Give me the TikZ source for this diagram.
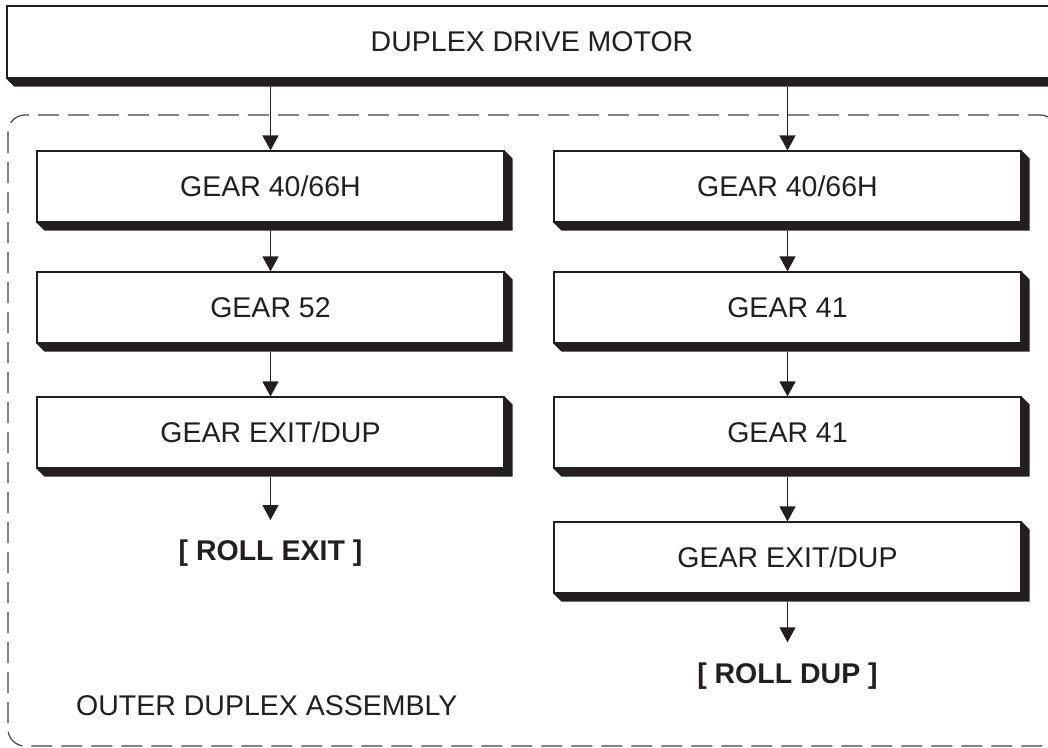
\documentclass[tikz,border=0pt]{standalone}
\usepackage{fontspec}
\setmainfont{Liberation Sans}
\usetikzlibrary{arrows.meta}
\definecolor{ink}{HTML}{231F20}
\begin{document}
\begin{tikzpicture}[x=1pt,y=-1pt,
  gearbox/.style={draw=ink, line width=1.2pt, fill=white, minimum width=467pt,
    minimum height=71pt, inner sep=0pt, font=\fontsize{28.5}{34}\selectfont, text=ink},
  motorbox/.style={gearbox, minimum width=1050pt, minimum height=72pt, line width=1.4pt},
  flow/.style={draw=ink, line width=1.3pt, -{Triangle[length=15pt,width=16pt]}},
  rolltext/.style={inner sep=0pt, text height=20.5pt, text depth=0pt, anchor=base,
    font=\fontsize{28.5}{34}\selectfont\bfseries, text=ink},
  labeltext/.style={inner sep=0pt, anchor=base west, font=\fontsize{28.5}{34}\selectfont, text=ink},
  assembly/.style={draw=ink!85, line width=1.2pt, dash pattern=on 21pt off 9pt, rounded corners=17pt}
]
\useasboundingbox (0,0) rectangle (1048,747);
\clip (0,0) rectangle (1048,747);

% outer dashed assembly outline
\draw[assembly] (8,115) rectangle (1057,746);

% motor
\node[motorbox] (motor) at (532,42) {DUPLEX DRIVE MOTOR};

% left column
\node[gearbox] (l1) at (270.5,186.5) {GEAR 40/66H};
\node[gearbox] (l2) at (270.5,307.5) {GEAR 52};
\node[gearbox] (l3) at (270.5,432.5) {GEAR EXIT/DUP};
\node[rolltext] (rexit) at (270.5,560.7) {[ ROLL EXIT ]};

% right column
\node[gearbox] (r1) at (787.5,186.5) {GEAR 40/66H};
\node[gearbox] (r2) at (787.5,307.5) {GEAR 41};
\node[gearbox] (r3) at (787.5,432.5) {GEAR 41};
\node[gearbox] (r4) at (787.5,557.5) {GEAR EXIT/DUP};
\node[rolltext] (rdup) at (787.5,683) {[ ROLL DUP ]};

\node[labeltext] (asm) at (76,715) {OUTER DUPLEX ASSEMBLY};

% shadows
\foreach \n in {motor,l1,l2,l3,r1,r2,r3,r4}{
  \fill[ink] (\n.south west) -- ([shift={(8pt,-8pt)}]\n.south west)
    -- ([shift={(8pt,-8pt)}]\n.south east) -- ([shift={(8pt,-8pt)}]\n.north east)
    -- (\n.north east) -- (\n.south east) -- cycle;
}

% connectors
\coordinate (motorshadow) at ([yshift=-8pt]motor.south);
\draw[flow] (l1.north |- motorshadow) -- (l1.north);
\draw[flow] (r1.north |- motorshadow) -- (r1.north);
\draw[flow] ([yshift=-8pt]l1.south) -- (l2.north);
\draw[flow] ([yshift=-8pt]l2.south) -- (l3.north);
\draw[flow] ([yshift=-8pt]l3.south) -- ([yshift=20pt]rexit.north);
\draw[flow] ([yshift=-8pt]r1.south) -- (r2.north);
\draw[flow] ([yshift=-8pt]r2.south) -- (r3.north);
\draw[flow] ([yshift=-8pt]r3.south) -- (r4.north);
\draw[flow] ([yshift=-8pt]r4.south) -- ([yshift=20pt]rdup.north);
\end{tikzpicture}
\end{document}
